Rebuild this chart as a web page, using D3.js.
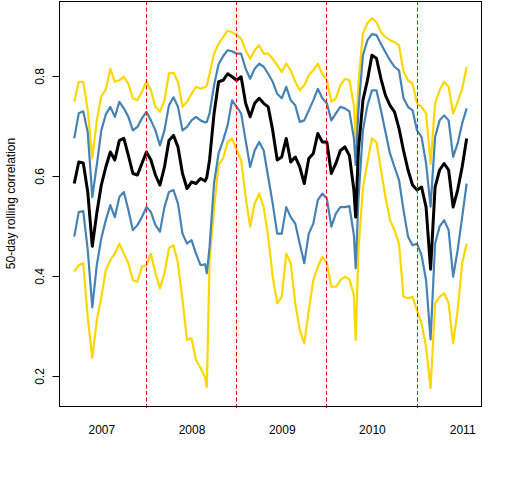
<!DOCTYPE html>
<html>
<head>
<meta charset="utf-8">
<script src="https://cdn.jsdelivr.net/npm/d3@7"></script>
<style>
  body { margin: 0; background: #fff; }
</style>
</head>
<body>
<script>
// time axis in decimal years (extra points at the sharp dips)
const years = [
  2007.20, 2007.25, 2007.30, 2007.35, 2007.40, 2007.45, 2007.50, 2007.55, 2007.60, 2007.65, 2007.70, 2007.75, 2007.80, 2007.85, 2007.90, 2007.95,
  2008.00, 2008.05, 2008.10, 2008.15, 2008.20, 2008.25, 2008.30, 2008.35, 2008.40, 2008.45, 2008.50, 2008.55, 2008.60, 2008.65, 2008.67, 2008.70, 2008.75, 2008.80, 2008.85, 2008.90, 2008.95,
  2009.00, 2009.05, 2009.10, 2009.15, 2009.20, 2009.25, 2009.30, 2009.35, 2009.40, 2009.45, 2009.50, 2009.55, 2009.60, 2009.65, 2009.70, 2009.75, 2009.80, 2009.85, 2009.90, 2009.95,
  2010.00, 2010.05, 2010.10, 2010.15, 2010.20, 2010.25, 2010.30, 2010.32, 2010.35, 2010.40, 2010.45, 2010.50, 2010.55, 2010.60, 2010.65, 2010.70, 2010.75, 2010.80, 2010.85, 2010.90, 2010.95,
  2011.00, 2011.05, 2011.10, 2011.15, 2011.20, 2011.25, 2011.30, 2011.35, 2011.40, 2011.45, 2011.50, 2011.55
];

// upper gold band
const goldHigh = [
  0.749, 0.789, 0.789, 0.732, 0.636, 0.712, 0.760, 0.774, 0.815, 0.789, 0.792, 0.799, 0.785, 0.756, 0.752, 0.769,
  0.789, 0.772, 0.739, 0.729, 0.752, 0.806, 0.807, 0.789, 0.739, 0.749, 0.765, 0.779, 0.775, 0.778, 0.782, 0.805, 0.845, 0.865, 0.878, 0.891, 0.888,
  0.882, 0.875, 0.852, 0.835, 0.852, 0.862, 0.845, 0.845, 0.835, 0.822, 0.809, 0.825, 0.812, 0.789, 0.772, 0.782, 0.802, 0.812, 0.825, 0.805,
  0.792, 0.749, 0.756, 0.782, 0.795, 0.792, 0.742, 0.672, 0.786, 0.886, 0.906, 0.916, 0.908, 0.888, 0.878, 0.872, 0.868, 0.862, 0.809, 0.792, 0.785,
  0.746, 0.739, 0.726, 0.625, 0.746, 0.772, 0.789, 0.779, 0.726, 0.749, 0.775, 0.819
];

// upper blue band
const blueHigh = [
  0.676, 0.726, 0.730, 0.688, 0.559, 0.623, 0.692, 0.724, 0.739, 0.719, 0.749, 0.736, 0.719, 0.692, 0.699, 0.716,
  0.729, 0.712, 0.692, 0.662, 0.692, 0.742, 0.758, 0.739, 0.692, 0.699, 0.712, 0.719, 0.712, 0.708, 0.709, 0.726, 0.782, 0.824, 0.840, 0.852, 0.850,
  0.845, 0.845, 0.815, 0.795, 0.815, 0.825, 0.819, 0.805, 0.789, 0.765, 0.756, 0.779, 0.752, 0.742, 0.709, 0.712, 0.732, 0.752, 0.775, 0.756,
  0.746, 0.712, 0.726, 0.739, 0.736, 0.730, 0.676, 0.623, 0.732, 0.842, 0.872, 0.884, 0.882, 0.865, 0.848, 0.832, 0.819, 0.812, 0.756, 0.739, 0.732,
  0.692, 0.679, 0.626, 0.540, 0.679, 0.712, 0.722, 0.712, 0.639, 0.666, 0.706, 0.736
];

// median
const median = [
  0.586, 0.629, 0.627, 0.569, 0.461, 0.527, 0.583, 0.619, 0.649, 0.633, 0.672, 0.676, 0.642, 0.606, 0.603, 0.626,
  0.649, 0.633, 0.603, 0.583, 0.619, 0.672, 0.682, 0.659, 0.606, 0.576, 0.589, 0.586, 0.596, 0.591, 0.599, 0.633, 0.726, 0.789, 0.792, 0.805, 0.799,
  0.792, 0.799, 0.746, 0.719, 0.746, 0.756, 0.746, 0.739, 0.692, 0.633, 0.639, 0.676, 0.629, 0.639, 0.619, 0.586, 0.636, 0.646, 0.686, 0.669,
  0.669, 0.606, 0.626, 0.652, 0.659, 0.642, 0.573, 0.519, 0.652, 0.752, 0.792, 0.842, 0.836, 0.795, 0.762, 0.742, 0.729, 0.696, 0.652, 0.613, 0.583,
  0.573, 0.579, 0.539, 0.415, 0.579, 0.613, 0.626, 0.613, 0.539, 0.573, 0.619, 0.676
];

// lower blue band
const blueLow = [
  0.480, 0.529, 0.531, 0.453, 0.339, 0.423, 0.477, 0.513, 0.543, 0.519, 0.559, 0.569, 0.533, 0.493, 0.503, 0.519,
  0.539, 0.529, 0.503, 0.490, 0.539, 0.569, 0.573, 0.546, 0.486, 0.466, 0.473, 0.446, 0.423, 0.425, 0.407, 0.459, 0.587, 0.646, 0.672, 0.702, 0.752,
  0.739, 0.726, 0.672, 0.619, 0.652, 0.669, 0.652, 0.599, 0.546, 0.486, 0.486, 0.539, 0.519, 0.506, 0.466, 0.427, 0.486, 0.506, 0.553, 0.566,
  0.556, 0.500, 0.526, 0.539, 0.539, 0.541, 0.483, 0.417, 0.553, 0.692, 0.742, 0.772, 0.772, 0.732, 0.689, 0.646, 0.619, 0.593, 0.533, 0.480, 0.463,
  0.466, 0.443, 0.393, 0.275, 0.466, 0.500, 0.513, 0.493, 0.400, 0.453, 0.519, 0.586
];

// lower gold band
const goldLow = [
  0.410, 0.423, 0.427, 0.317, 0.238, 0.313, 0.359, 0.413, 0.433, 0.446, 0.466, 0.446, 0.427, 0.393, 0.390, 0.420,
  0.423, 0.446, 0.407, 0.377, 0.407, 0.457, 0.463, 0.427, 0.353, 0.274, 0.277, 0.234, 0.218, 0.200, 0.180, 0.433, 0.537, 0.623, 0.636, 0.669, 0.676,
  0.652, 0.633, 0.559, 0.500, 0.546, 0.566, 0.539, 0.480, 0.400, 0.347, 0.360, 0.446, 0.427, 0.347, 0.294, 0.267, 0.333, 0.393, 0.420, 0.440,
  0.427, 0.380, 0.380, 0.393, 0.400, 0.395, 0.363, 0.274, 0.453, 0.577, 0.629, 0.676, 0.668, 0.613, 0.559, 0.513, 0.493, 0.466, 0.360, 0.357, 0.360,
  0.333, 0.307, 0.260, 0.178, 0.347, 0.360, 0.367, 0.347, 0.267, 0.333, 0.427, 0.466
];

const yTicks = [0.2, 0.4, 0.6, 0.8];
const yearLabels = [2007, 2008, 2009, 2010, 2011];
const yearBreaks = [2008, 2009, 2010, 2011];

// Set the dimensions and margins of the graph
const margin = { top: 1, right: 30, bottom: 74, left: 59 },
  graphWidth = 512 - margin.left - margin.right,
  graphHeight = 480 - margin.top - margin.bottom,
  svg = d3
    .select("body")
    .append("svg")
    .attr("width", 512)
    .attr("height", 480),
  graph = svg
    .append("g")
    .attr("transform", `translate(${margin.left}, ${margin.top})`),
  // Scales
  x = d3.scaleLinear().domain([2007.031, 2011.72]).range([0, graphWidth]),
  y = d3.scaleLinear().domain([0.1421, 0.9502]).range([graphHeight, 0]),
  line = d3
    .line()
    .x((d, i) => x(years[i]))
    .y(d => y(d));

const font = "'Liberation Sans', Arial, sans-serif";

// series: gold first, then blue, black median on top
const series = [
  { values: goldHigh, color: "#FFD700", width: 2.2 },
  { values: goldLow, color: "#FFD700", width: 2.2 },
  { values: blueHigh, color: "#4682B4", width: 2.2 },
  { values: blueLow, color: "#4682B4", width: 2.2 },
  { values: median, color: "#000000", width: 3 }
];

graph
  .selectAll("path.series")
  .data(series)
  .enter()
  .append("path")
  .attr("class", "series")
  .attr("fill", "none")
  .attr("stroke", d => d.color)
  .attr("stroke-width", d => d.width)
  .attr("stroke-linejoin", "round")
  .attr("d", d => line(d.values));

// year boundaries, red dashed
graph
  .selectAll("line.break")
  .data(yearBreaks)
  .enter()
  .append("line")
  .attr("class", "break")
  .attr("x1", d => Math.floor(x(d) + margin.left) + 0.5 - margin.left)
  .attr("x2", d => Math.floor(x(d) + margin.left) + 0.5 - margin.left)
  .attr("y1", 0)
  .attr("y2", graphHeight + 4.7)
  .attr("stroke", "#FF0000")
  .attr("stroke-width", 1)
  .attr("stroke-dasharray", "4,2.5");

// box
graph
  .append("rect")
  .attr("x", 0.5)
  .attr("y", 0.5)
  .attr("width", graphWidth - 1)
  .attr("height", graphHeight)
  .attr("fill", "none")
  .attr("stroke", "#000")
  .attr("stroke-width", 1);

// y axis
const yAxis = d3
  .axisLeft(y)
  .tickValues(yTicks)
  .tickSize(7)
  .tickFormat(d3.format(".1f"))
  .offset(0);
const yAxisGroup = graph.append("g").attr("class", "y-axis").call(yAxis);
yAxisGroup.select(".domain").remove();
yAxisGroup
  .selectAll(".tick")
  .attr("transform", d => `translate(0, ${Math.floor(y(d) + margin.top) + 0.5 - margin.top})`);
yAxisGroup
  .selectAll(".tick line")
  .attr("x1", 0.5)
  .attr("x2", -6.5)
  .attr("stroke", "#000");
yAxisGroup
  .selectAll("text")
  .attr("transform", "rotate(-90)")
  .attr("x", 0)
  .attr("y", -15.5)
  .attr("dy", null)
  .attr("text-anchor", "middle")
  .attr("font-size", 12)
  .attr("font-family", font)
  .attr("fill", "#000");

// x axis: year labels at mid-year, no ticks
const xAxis = d3
  .axisBottom(x)
  .tickValues(yearLabels.map(d => d + 0.5))
  .tickSize(0)
  .tickFormat((d, i) => yearLabels[i]);
const xAxisGroup = graph
  .append("g")
  .attr("class", "x-axis")
  .attr("transform", `translate(0, ${graphHeight})`)
  .call(xAxis);
xAxisGroup.select(".domain").remove();
xAxisGroup
  .selectAll("text")
  .attr("y", 28)
  .attr("dy", null)
  .attr("font-size", 12)
  .attr("font-family", font)
  .attr("fill", "#000");

// y axis title
svg
  .append("text")
  .attr("transform", `translate(15, ${margin.top + graphHeight / 2}) rotate(-90)`)
  .attr("text-anchor", "middle")
  .attr("font-size", 12)
  .attr("font-family", font)
  .attr("fill", "#000")
  .text("50-day rolling correlation");
</script>
</body>
</html>
